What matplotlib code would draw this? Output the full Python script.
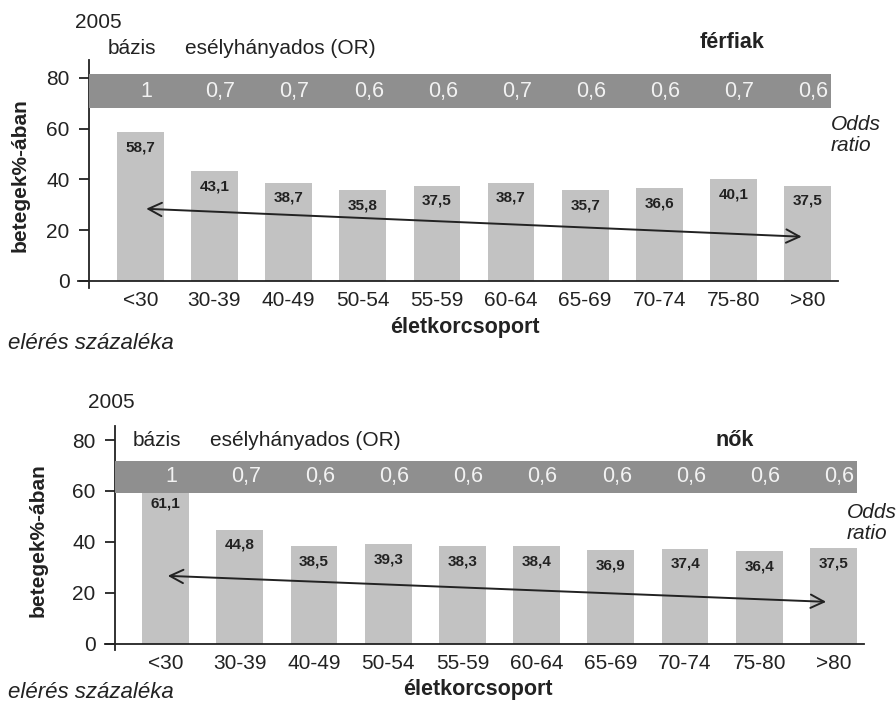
import numpy as np
import matplotlib
matplotlib.use('Agg')
import matplotlib.pyplot as plt

plt.rcParams['font.family'] = ['Liberation Sans', 'DejaVu Sans']

W, H = 896, 706

# age groups and screening rates (% of patients) per sex, 2005
categories = ['<30', '30-39', '40-49', '50-54', '55-59', '60-64', '65-69', '70-74', '75-80', '>80']
ferfi_pct = [58.7, 43.1, 38.7, 35.8, 37.5, 38.7, 35.7, 36.6, 40.1, 37.5]
ferfi_or = [1, 0.7, 0.7, 0.6, 0.6, 0.7, 0.6, 0.6, 0.7, 0.6]
no_pct = [61.1, 44.8, 38.5, 39.3, 38.3, 38.4, 36.9, 37.4, 36.4, 37.5]
no_or = [1, 0.7, 0.6, 0.6, 0.6, 0.6, 0.6, 0.6, 0.6, 0.6]

BAR_COLOR = '#c2c2c2'
BAND_COLOR = '#8f8f8f'
TEXT = '#222222'


def hu(v):
    # hungarian decimal comma
    if v == int(v):
        return str(int(v))
    return f"{v:.1f}".replace('.', ',')


def px(x, y):
    return x / W, 1 - y / H


def draw_panel(rect, pct, odds, xlim, ylim, spine_x, band, arrow, ylab, year_xy, base_xy, title, odds_xy):
    ax = fig.add_axes(rect)
    x = np.arange(len(categories))
    ax.bar(x, pct, width=0.63, color=BAR_COLOR, zorder=1)
    for xi, v in zip(x, pct):
        ax.annotate(hu(v), (xi, v), xytext=(0, -11), textcoords='offset points',
                    ha='center', va='center', fontsize=11, fontweight='bold', color=TEXT)

    # odds ratio band on top of the bars
    ax.fill_between([spine_x, len(categories) - 1 + 0.315], band[0], band[1],
                    color=BAND_COLOR, lw=0, zorder=3)
    for xi, o in zip(x, odds):
        ax.text(xi + 0.08, (band[0] + band[1]) / 2, hu(o), ha='center', va='center',
                fontsize=15.5, color='#f2f2f2', zorder=4)

    ax.annotate('', xy=arrow[0], xytext=arrow[1],
                arrowprops=dict(arrowstyle='<->', color=TEXT, lw=1.4,
                                mutation_scale=24, shrinkA=0, shrinkB=0), zorder=5)

    ax.set_xlim(*xlim)
    ax.set_ylim(*ylim)
    ax.spines['top'].set_visible(False)
    ax.spines['right'].set_visible(False)
    ax.spines['left'].set_position(('data', spine_x))
    ax.spines['bottom'].set_position(('data', 0))
    for s in ('left', 'bottom'):
        ax.spines[s].set_linewidth(1.3)
        ax.spines[s].set_color(TEXT)
    ax.set_yticks([0, 20, 40, 60, 80])
    ax.set_xticks(x)
    ax.set_xticklabels(categories)
    ax.tick_params(axis='y', length=7, width=1.3, color=TEXT, pad=7,
                   labelsize=15, labelcolor=TEXT)
    ax.tick_params(axis='x', length=0, pad=7, labelsize=15, labelcolor=TEXT)

    # labels around the panel
    fig.text(*px(*ylab), 'betegek%-ában', rotation=90, ha='center', va='center',
             fontsize=15, fontweight='bold', color=TEXT)
    fig.text(*px(*year_xy), '2005', ha='left', va='center', fontsize=15, color=TEXT)
    fig.text(*px(*base_xy), 'bázis', ha='left', va='center', fontsize=15, color=TEXT)
    fig.text(*px(base_xy[0] + 77, base_xy[1]), 'esélyhányados (OR)',
             ha='left', va='center', fontsize=15, color=TEXT)
    fig.text(*px(title[1], title[2]), title[0], ha='left', va='center',
             fontsize=15.5, fontweight='bold', color=TEXT)
    fig.text(*px(*odds_xy), 'Odds\nratio', ha='left', va='center',
             fontsize=15, style='italic', color=TEXT, linespacing=1.15)
    return ax


fig = plt.figure(figsize=(W / 100, H / 100), dpi=100)

# men
draw_panel([78 / W, 1 - 288 / H, 760 / W, 228 / H], ferfi_pct, ferfi_or,
           (-0.84, 9.41), (-2.8, 87), -0.69, (68.2, 81.3),
           ((0.08, 28.4), (8.92, 17.4)), (20, 175), (75, 22), (108, 48),
           ('férfiak', 700, 42), (831, 135))
fig.text(*px(465, 328), 'életkorcsoport', ha='center', va='center',
         fontsize=15.5, fontweight='bold', color=TEXT)
fig.text(*px(8, 344), 'elérés százaléka', ha='left', va='center',
         fontsize=16, style='italic', color=TEXT)

# women
draw_panel([105 / W, 1 - 650 / H, 759 / W, 224 / H], no_pct, no_or,
           (-0.815, 9.41), (-2.4, 85.5), -0.68, (59.2, 71.8),
           ((0.03, 26.7), (8.9, 16.5)), (38, 540), (88, 403), (133, 440),
           ('nők', 715, 441), (847, 523))
fig.text(*px(478, 689), 'életkorcsoport', ha='center', va='center',
         fontsize=15.5, fontweight='bold', color=TEXT)
fig.text(*px(8, 693), 'elérés százaléka', ha='left', va='center',
         fontsize=16, style='italic', color=TEXT)

fig.savefig('out.png', dpi=100)
